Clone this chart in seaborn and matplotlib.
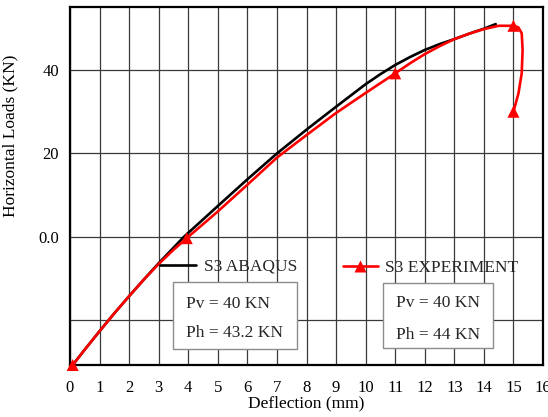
import matplotlib
matplotlib.use("Agg")
import matplotlib.pyplot as plt
from matplotlib.lines import Line2D
from matplotlib.patches import Rectangle
import pandas as pd
import seaborn as sns

# Load–deflection response, specimen S3
abaqus_defl = [0.09, 0.5, 1.0, 1.5, 2.0, 2.5, 3.0, 3.5, 3.85, 5.0, 6.0, 7.0,
               8.0, 9.0, 10.0, 10.5, 11.0, 11.5, 12.0, 12.5, 13.0, 13.5, 14.0,
               14.4]
abaqus_load = [-30.7, -27.0, -22.6, -18.3, -14.2, -10.2, -6.3, -2.6, 0.0, 7.4,
               13.8, 20.0, 25.7, 31.2, 36.6, 39.0, 41.2, 43.1, 44.8, 46.2,
               47.4, 48.7, 49.9, 51.0]

exp_defl = [0.09, 0.5, 1.0, 1.5, 2.0, 2.5, 3.0, 3.5, 3.95, 5.0, 6.0, 7.0, 8.0,
            9.0, 10.0, 11.0, 11.5, 12.0, 12.5, 13.0, 13.5, 14.0, 14.5, 15.0,
            15.17, 15.28, 15.31, 15.28, 15.17, 15.0]
exp_load = [-30.7, -27.0, -22.6, -18.3, -14.2, -10.2, -6.5, -3.1, -0.3, 6.1,
            12.5, 19.0, 24.4, 29.7, 34.5, 39.2, 41.6, 43.8, 45.7, 47.4, 48.7,
            49.8, 50.6, 50.6, 50.2, 48.8, 44.8, 39.2, 34.4, 30.0]
exp_marker_idx = [0, 8, 15, 23, 29]

x_ticks = list(range(0, 17))
y_ticks = [-20, 0, 20, 40]
y_ticklabels = ["", "0.0", "20", "40"]

abaqus_label = "S3 ABAQUS"
exp_label = "S3 EXPERIMENT"
abaqus_note = ["Pv = 40 KN", "Ph = 43.2 KN"]
exp_note = ["Pv = 40 KN", "Ph = 44 KN"]

sns.set_theme(style="white")
plt.rcParams["font.family"] = ["Liberation Serif", "DejaVu Serif"]

W, H = 548, 417
fig = plt.figure(figsize=(W / 100, H / 100), dpi=100)
ax = fig.add_axes([70 / W, 1 - 365 / H, 473 / W, 358 / H])

abq = pd.DataFrame({"defl": abaqus_defl, "load": abaqus_load})
exp = pd.DataFrame({"defl": exp_defl, "load": exp_load})
exp_pts = exp.iloc[exp_marker_idx]

sns.lineplot(data=abq, x="defl", y="load", sort=False, estimator=None,
             color="black", lw=1.9, ax=ax, zorder=3)
sns.lineplot(data=exp, x="defl", y="load", sort=False, estimator=None,
             color="#ff0000", lw=1.9, ax=ax, zorder=4)
sns.scatterplot(data=exp_pts, x="defl", y="load", marker="^", s=75,
                color="#ff0000", edgecolor="none", ax=ax, zorder=5,
                clip_on=False)

ax.set_xlim(0, 16)
ax.set_ylim(-30.7, 55.1)
ax.set_xticks(x_ticks)
ax.set_yticks(y_ticks)
ax.set_yticklabels(y_ticklabels)
ax.tick_params(axis="both", length=0, labelsize=12, colors="black")
ax.tick_params(axis="x", pad=11)
ax.tick_params(axis="y", pad=8)

ax.set_axisbelow(True)
ax.grid(True, color="#3a3a3a", lw=0.9)
for sp in ax.spines.values():
    sp.set_color("black")
    sp.set_linewidth(1.6)

ax.set_xlabel("Deflection (mm)", fontsize=12.5, color="black", labelpad=-0.5)
ax.set_ylabel("Horizontal Loads (KN)", fontsize=12.5, color="black")
ax.yaxis.set_label_coords(-0.11, 0.64)

# Series legends
leg1 = ax.legend(handles=[Line2D([], [], color="black", lw=1.9)],
                 labels=[abaqus_label], loc="center left",
                 bbox_to_anchor=(0.19, 0.275), frameon=False, fontsize=12.5,
                 borderpad=0, borderaxespad=0, handlelength=2.1,
                 handletextpad=0.45)
ax.add_artist(leg1)
ax.legend(handles=[Line2D([], [], color="#ff0000", lw=1.9, marker="^",
                          markersize=8, markeredgecolor="none")],
          labels=[exp_label], loc="center left",
          bbox_to_anchor=(0.577, 0.271), frameon=False, fontsize=12.5,
          borderpad=0, borderaxespad=0, handlelength=2.0,
          handletextpad=0.4)

# Load annotation boxes
for (x0, x1, y0, y1), (tx, ty1, ty2), lines in [
    ((0.217, 0.479, 0.044, 0.231), (0.245, 0.170, 0.088), abaqus_note),
    ((0.662, 0.895, 0.048, 0.228), (0.689, 0.172, 0.084), exp_note),
]:
    ax.add_patch(Rectangle((x0, y0), x1 - x0, y1 - y0, transform=ax.transAxes,
                           facecolor="white", edgecolor="#8c8c8c", lw=1.0,
                           zorder=2))
    ax.text(tx, ty1, lines[0], transform=ax.transAxes, fontsize=12.5,
            va="center", ha="left", zorder=2.5)
    ax.text(tx, ty2, lines[1], transform=ax.transAxes, fontsize=12.5,
            va="center", ha="left", zorder=2.5)

fig.savefig("out.png", dpi=100)
